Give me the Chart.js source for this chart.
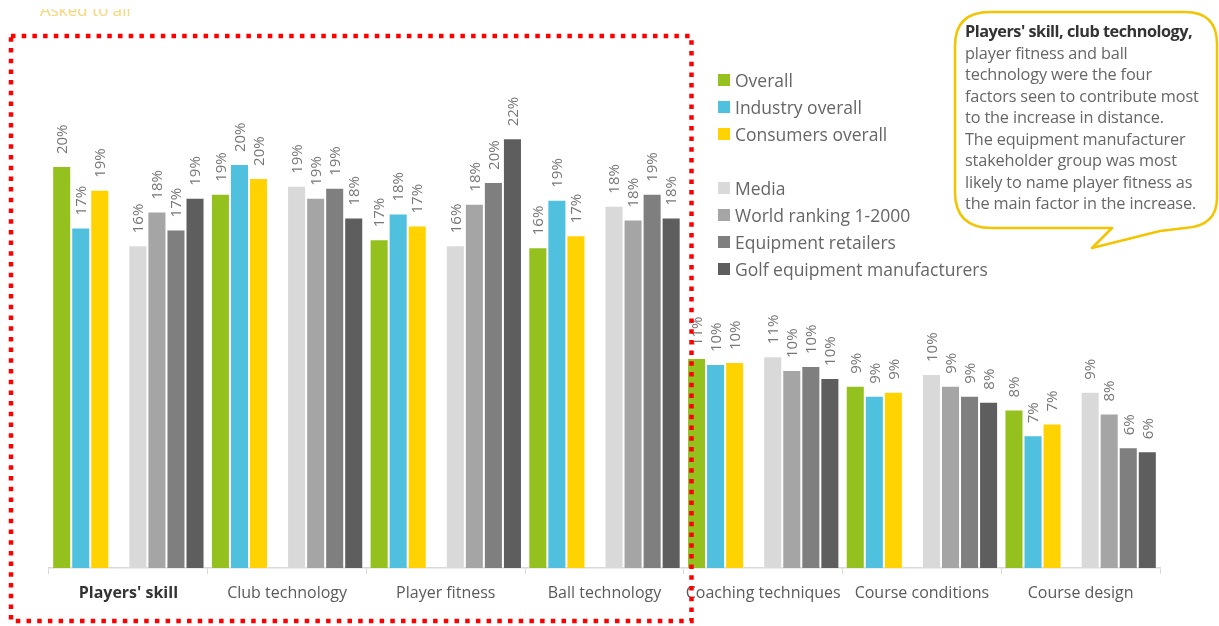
<!DOCTYPE html>
<html>
<head>
<meta charset="utf-8">
<title>Factors contributing to the increase in distance</title>
<script src="https://cdn.jsdelivr.net/npm/chart.js@4.4.1/dist/chart.umd.min.js"></script>
<style>
    body { margin: 0; width: 1219px; height: 626px; overflow: hidden; background: #fff; position: relative; font-family: 'Open Sans', sans-serif; }
    #chart { position: absolute; left: 0; top: 0; }
    #asked { position: absolute; left: 40px; top: 9px; height: 10px; overflow: hidden; }
    #asked span { position: relative; top: -8px; display: block; font-size: 17px; line-height: 17px; color: #f7d77c; }
    #legend { position: absolute; left: 718px; top: 67px; }
    .lg-row { height: 26.9px; display: flex; align-items: center; font-size: 17.5px; color: #666; white-space: nowrap; }
    .lg-box { width: 12px; height: 12px; margin-right: 5px; }
    #bubble { position: absolute; left: 0; top: 0; pointer-events: none; }
    #note { position: absolute; left: 965px; top: 21px; font-size: 16.3px; line-height: 21.5px; color: #666; letter-spacing: -0.15px; white-space: nowrap; }
    #note b { color: #333; letter-spacing: -0.5px; }
    #overlay { position: absolute; left: 0; top: 0; pointer-events: none; }
</style>
</head>
<body>
<div id="asked"><span>Asked to all</span></div>
<canvas id="chart" width="1219" height="626"></canvas>
<div id="legend"></div>
<svg id="bubble" width="1219" height="626">
    <path d="M 990 12 L 1185 12 Q 1217 12 1217 44 L 1217 198 Q 1217 226 1185 228 L 1160 231 L 1092 248 L 1112 228 L 992 228 Q 955 228 955 192 L 955 46 Q 955 12 990 12 Z"
          fill="none" stroke="#f3c400" stroke-width="2.5" stroke-linejoin="round"/>
</svg>
<div id="note"><b>Players' skill, club technology,</b><br>player fitness and ball<br>technology were the four<br>factors seen to contribute most<br>to the increase in distance.<br>The equipment manufacturer<br>stakeholder group was most<br>likely to name player fitness as<br>the main factor in the increase.</div>
<svg id="overlay" width="1219" height="626">
    <rect x="11" y="36" width="680.5" height="585" fill="none" stroke="#ff0000" stroke-width="4.5" stroke-dasharray="4.5 6.2"/>
</svg>
<script>
    // --- DATOS (en %) ---
    const categories = ["Players' skill", 'Club technology', 'Player fitness', 'Ball technology', 'Coaching techniques', 'Course conditions', 'Course design'];
    const overall            = [20.3, 18.9, 16.6, 16.2, 10.6, 9.2, 8.0];
    const industryOverall    = [17.2, 20.4, 17.9, 18.6, 10.3, 8.7, 6.7];
    const consumersOverall   = [19.1, 19.7, 17.3, 16.8, 10.4, 8.9, 7.3];
    const media              = [16.3, 19.3, 16.3, 18.3, 10.7, 9.8, 8.9];
    const worldRanking       = [18.0, 18.7, 18.4, 17.6, 10.0, 9.2, 7.8];
    const equipmentRetailers = [17.1, 19.2, 19.5, 18.9, 10.2, 8.7, 6.1];
    const golfManufacturers  = [18.7, 17.7, 21.7, 17.7, 9.6, 8.4, 5.9];

    const seriesNames  = ['Overall', 'Industry overall', 'Consumers overall', 'Media', 'World ranking 1-2000', 'Equipment retailers', 'Golf equipment manufacturers'];
    const seriesData   = [overall, industryOverall, consumersOverall, media, worldRanking, equipmentRetailers, golfManufacturers];
    const seriesColors = ['#95c11f', '#4fc0de', '#ffd200', '#d9d9d9', '#a5a5a5', '#7f7f7f', '#5e5e5e'];

    // --- DATASETS (con un hueco vacío entre los grupos) ---
    const datasets = [];
    seriesData.forEach((data, i) => {
        if (i === 3) {
            datasets.push({ label: '', data: categories.map(() => null), spacer: true, backgroundColor: 'transparent' });
        }
        datasets.push({
            label: seriesNames[i],
            data: data,
            backgroundColor: seriesColors[i],
            borderColor: 'rgba(255,255,255,0.35)',
            borderWidth: 1,
            borderSkipped: 'bottom'
        });
    });

    // --- LEYENDA HTML ---
    const legendDiv = document.getElementById('legend');
    seriesNames.forEach((name, i) => {
        if (i === 3) {
            legendDiv.insertAdjacentHTML('beforeend', '<div class="lg-row"></div>');
        }
        legendDiv.insertAdjacentHTML('beforeend',
            `<div class="lg-row"><span class="lg-box" style="background:${seriesColors[i]}"></span>${name}</div>`);
    });

    // Etiquetas de valor giradas encima de cada barra
    const valueLabels = {
        id: 'valueLabels',
        afterDatasetsDraw(chart) {
            const ctx = chart.ctx;
            ctx.save();
            ctx.font = '15px "Open Sans"';
            ctx.fillStyle = '#777';
            ctx.textAlign = 'left';
            ctx.textBaseline = 'middle';
            chart.data.datasets.forEach((ds, i) => {
                if (ds.spacer) return;
                chart.getDatasetMeta(i).data.forEach((bar, j) => {
                    ctx.save();
                    ctx.translate(bar.x + 1, bar.y - 12);
                    ctx.rotate(-Math.PI / 2);
                    ctx.fillText(Math.round(ds.data[j]) + '%', 0, 0);
                    ctx.restore();
                });
            });
            ctx.restore();
        }
    };

    new Chart(document.getElementById('chart'), {
        type: 'bar',
        data: { labels: categories, datasets: datasets },
        plugins: [valueLabels],
        options: {
            responsive: false,
            animation: false,
            devicePixelRatio: 1,
            layout: { padding: { left: 49, right: 59, top: 73, bottom: 0 } },
            datasets: { bar: { categoryPercentage: 0.96, barPercentage: 1.0 } },
            plugins: { legend: { display: false }, tooltip: { enabled: false } },
            scales: {
                x: {
                    grid: { display: true, drawOnChartArea: false, drawTicks: true, tickLength: 6, color: '#d9d9d9', offset: true },
                    border: { display: true, color: '#d9d9d9', width: 1.5 },
                    ticks: {
                        autoSkip: false,
                        maxRotation: 0,
                        padding: 10,
                        color: ctx => ctx.index === 0 ? '#333' : '#5a5a5a',
                        font: ctx => ({ family: 'Open Sans', size: 16, weight: ctx.index === 0 ? 'bold' : 'normal' })
                    },
                    afterFit: scale => { scale.height = 58; }
                },
                y: { display: false, min: 0, max: 25 }
            }
        }
    });
</script>
</body>
</html>
